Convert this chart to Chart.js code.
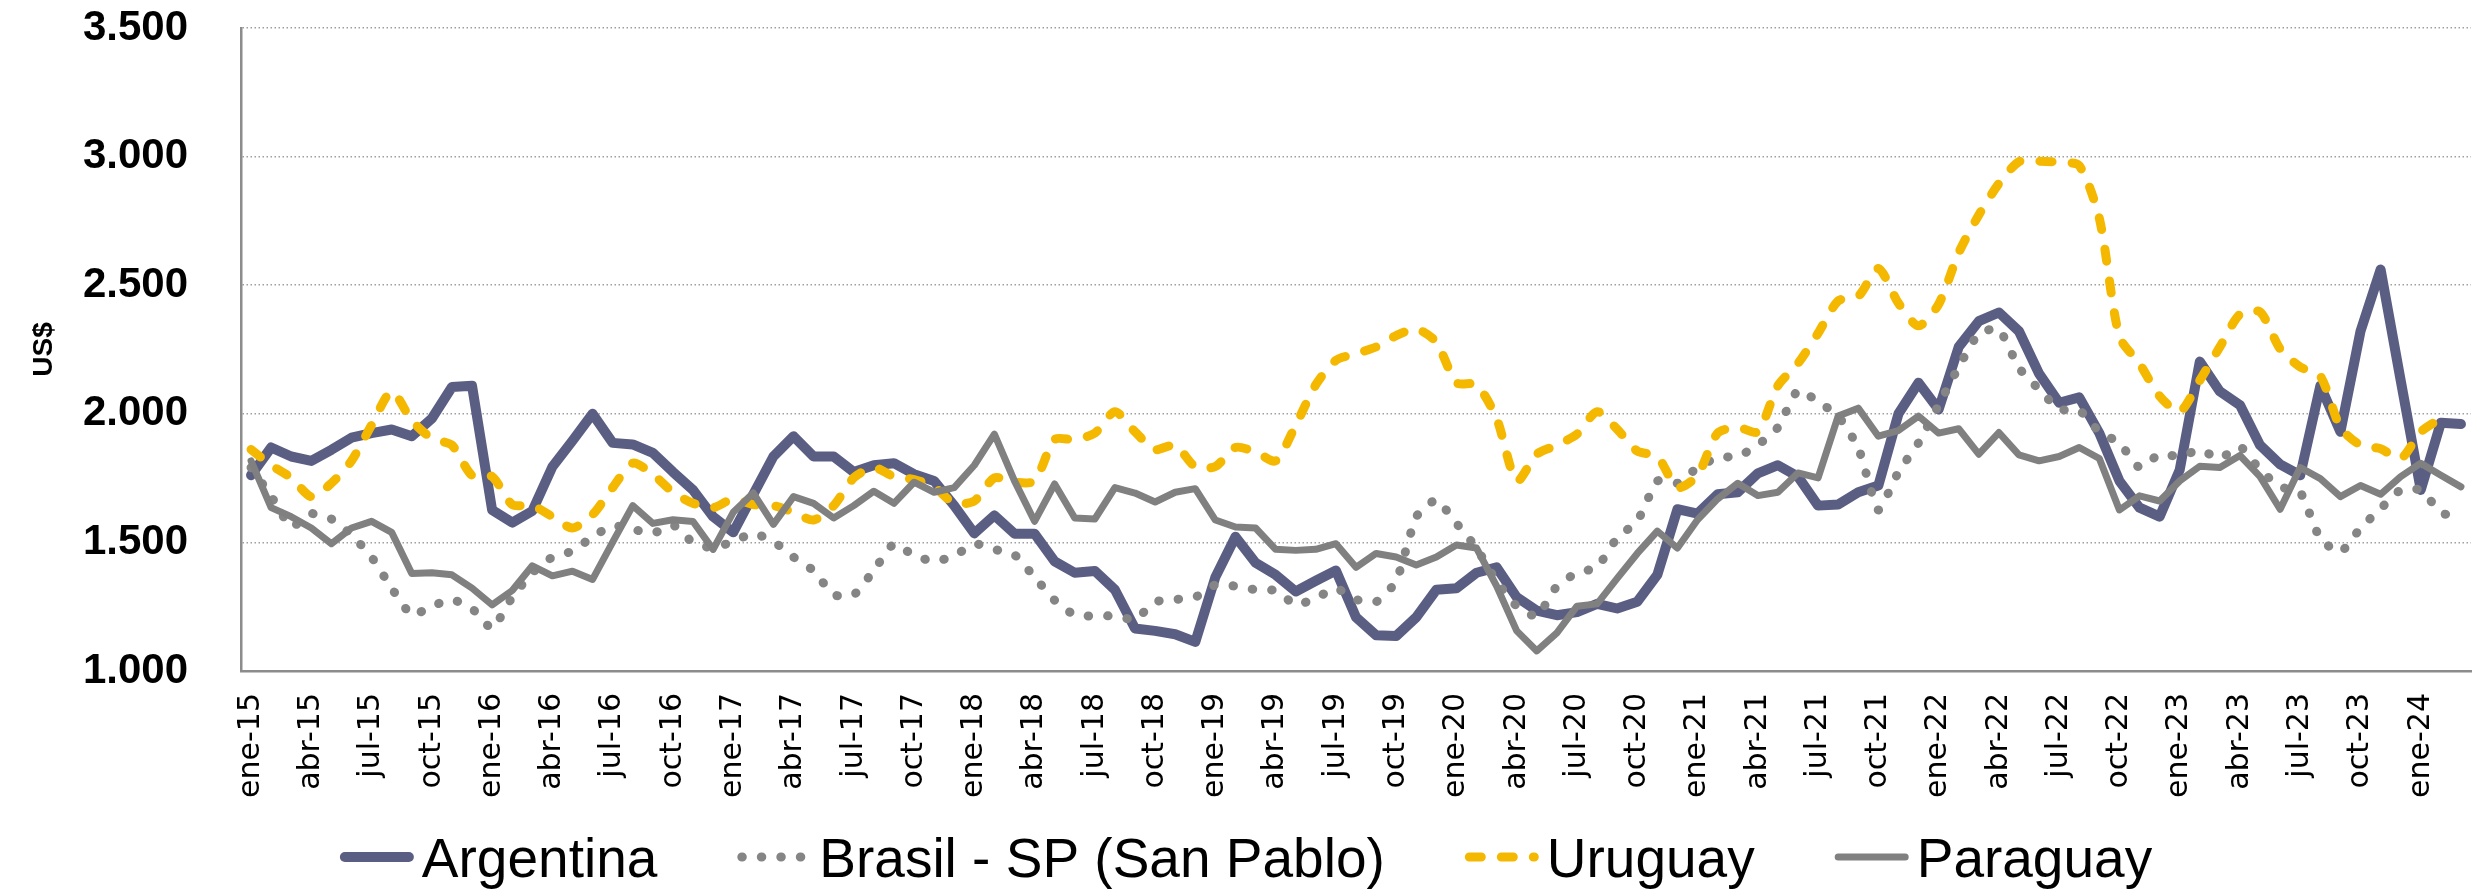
<!DOCTYPE html>
<html>
<head>
<meta charset="utf-8">
<script src="https://cdn.jsdelivr.net/npm/chart.js@4"></script>
<style>
  body { margin: 0; background: #fff; }
  canvas { display: block; }
</style>
</head>
<body>
<canvas id="precioChart" width="2484" height="890"></canvas>
<script>
// monthly series, ene-15 .. mar-24 (US$)
const monthNames = ['ene', 'feb', 'mar', 'abr', 'may', 'jun', 'jul', 'ago', 'sep', 'oct', 'nov', 'dic'];
const years = ['15', '16', '17', '18', '19', '20', '21', '22', '23', '24'];
const lastMonthOf2024 = 3; // data ends in mar-24

const argentina = [
  1761, 1869, 1834, 1817, 1860, 1907, 1925, 1939, 1913, 1982,
  2104, 2109, 1626, 1577, 1622, 1794, 1895, 2000, 1887, 1881,
  1848, 1774, 1704, 1600, 1539, 1687, 1834, 1913, 1834, 1834,
  1774, 1800, 1808, 1765, 1739, 1643, 1535, 1605, 1534, 1534,
  1426, 1382, 1389, 1316, 1165, 1156, 1143, 1113, 1365, 1522,
  1421, 1374, 1309, 1351, 1391, 1209, 1139, 1136, 1209, 1316,
  1322, 1382, 1403, 1287, 1235, 1217, 1229, 1261, 1243, 1269,
  1374, 1629, 1612, 1687, 1695, 1768, 1800, 1756, 1643, 1647,
  1695, 1721, 2000, 2121, 2017, 2260, 2360, 2394, 2321, 2156,
  2043, 2064, 1925, 1739, 1635, 1600, 1782, 2203, 2087, 2034,
  1878, 1803, 1761, 2109, 1930, 2321, 2561, 2130, 1704, 1965,
  1960
];

const brasil = [
  1791, 1680, 1560, 1612, 1591, 1530, 1443, 1322, 1217, 1252,
  1278, 1243, 1165, 1287, 1382, 1443, 1466, 1522, 1565, 1551,
  1535, 1568, 1499, 1478, 1504, 1535, 1504, 1443, 1390, 1296,
  1296, 1391, 1495, 1449, 1426, 1447, 1495, 1473, 1452, 1365,
  1275, 1217, 1214, 1214, 1200, 1269, 1278, 1287, 1335, 1330,
  1316, 1313, 1257, 1283, 1322, 1278, 1269, 1348, 1600, 1666,
  1574, 1478, 1348, 1252, 1212, 1330, 1382, 1403, 1518, 1582,
  1739, 1730, 1791, 1831, 1834, 1878, 1947, 2092, 2048, 1991,
  1869, 1626, 1774, 1887, 2034, 2182, 2313, 2330, 2178, 2095,
  2017, 2014, 1930, 1887, 1791, 1843, 1834, 1860, 1826, 1873,
  1782, 1716, 1695, 1513, 1461, 1556, 1631, 1704, 1704, 1617,
  1591
];

const uruguay = [
  1861, 1800, 1751, 1678, 1730, 1817, 1956, 2087, 1974, 1904,
  1878, 1760, 1756, 1647, 1643, 1600, 1556, 1608, 1713, 1808,
  1765, 1695, 1652, 1635, 1669, 1647, 1643, 1617, 1587, 1643,
  1751, 1791, 1756, 1744, 1716, 1652, 1661, 1751, 1734, 1739,
  1900, 1900, 1925, 2008, 1930, 1861, 1878, 1794, 1795, 1869,
  1852, 1817, 1956, 2113, 2208, 2234, 2260, 2304, 2330, 2278,
  2121, 2113, 1982, 1739, 1843, 1878, 1921, 2008, 1940, 1855,
  1834, 1713, 1761, 1925, 1947, 1930, 2109, 2196, 2313, 2439,
  2457, 2565, 2430, 2342, 2426, 2626, 2773, 2895, 2980, 2982,
  2978, 2965, 2760, 2300, 2195, 2069, 2008, 2130, 2260, 2387,
  2396, 2252, 2182, 2147, 1947, 1878, 1864, 1826, 1930, 1982,
  null
];

const paraguay = [
  1817, 1635, 1600, 1556, 1495, 1556, 1582, 1539, 1379, 1382,
  1374, 1322, 1257, 1313, 1409, 1370, 1388, 1356, 1501, 1643,
  1574, 1588, 1581, 1473, 1617, 1692, 1570, 1678, 1652, 1595,
  1643, 1699, 1652, 1734, 1695, 1713, 1800, 1921, 1739, 1582,
  1727, 1595, 1591, 1713, 1692, 1657, 1695, 1709, 1587, 1560,
  1556, 1473, 1469, 1473, 1495, 1403, 1457, 1443, 1412, 1443,
  1490, 1478, 1330, 1156, 1078, 1148, 1252, 1261, 1360, 1457,
  1544, 1478, 1588, 1669, 1730, 1682, 1695, 1770, 1751, 1991,
  2022, 1913, 1935, 1991, 1925, 1942, 1843, 1927, 1840, 1817,
  1834, 1869, 1826, 1626, 1681, 1661, 1739, 1796, 1791, 1838,
  1756, 1629, 1791, 1748, 1678, 1721, 1687, 1756, 1808, 1761,
  1716
];

const yTicks = { min: 1000, max: 3500, step: 500 };

// build the month labels: ene-15, feb-15, ...
const labels = [];
years.forEach((yy, yi) => {
  const count = yi === years.length - 1 ? lastMonthOf2024 : 12;
  for (let m = 0; m < count; m++) labels.push(monthNames[m] + '-' + yy);
});

// legend drawn under the axis, same look as the lines
const bottomLegend = {
  id: 'bottomLegend',
  afterDraw(chart) {
    const c = chart.ctx;
    const sets = chart.data.datasets;
    const symW = 74, gapIn = 8, gapOut = 80;
    const y = 857;
    c.save();
    c.font = '55px "Liberation Sans", Arial, sans-serif';
    const widths = sets.map(d => symW + gapIn + c.measureText(d.label).width);
    const total = widths.reduce((a, b) => a + b, 0) + gapOut * (sets.length - 1);
    let x = chart.width / 2 + 4 - total / 2;
    sets.forEach((d, i) => {
      const half = d.borderWidth / 2;
      c.beginPath();
      c.lineWidth = d.borderWidth;
      c.strokeStyle = d.borderColor;
      c.lineCap = d.borderCapStyle;
      c.setLineDash(d.borderDash || []);
      c.moveTo(x + half, y);
      c.lineTo(x + symW - half, y);
      c.stroke();
      c.setLineDash([]);
      c.fillStyle = '#000';
      c.textBaseline = 'alphabetic';
      c.fillText(d.label, x + symW + gapIn, y + 20);
      x += widths[i] + gapOut;
    });
    c.restore();
  }
};

const ctx = document.getElementById('precioChart').getContext('2d');
new Chart(ctx, {
  type: 'line',
  data: {
    labels: labels,
    datasets: [
      {
        label: 'Argentina',
        data: argentina,
        borderColor: '#5b5e83',
        borderWidth: 10,
        borderCapStyle: 'round',
        borderJoinStyle: 'round',
        tension: 0,
        order: 4
      },
      {
        label: 'Brasil - SP (San Pablo)',
        data: brasil,
        borderColor: '#858585',
        borderWidth: 9,
        borderDash: [0.5, 19],
        borderCapStyle: 'round',
        borderJoinStyle: 'round',
        tension: 0.15,
        order: 3
      },
      {
        label: 'Uruguay',
        data: uruguay,
        borderColor: '#f5b800',
        borderWidth: 9,
        borderDash: [12, 20],
        borderCapStyle: 'round',
        borderJoinStyle: 'round',
        tension: 0.25,
        order: 2
      },
      {
        label: 'Paraguay',
        data: paraguay,
        borderColor: '#808080',
        borderWidth: 7,
        borderCapStyle: 'round',
        borderJoinStyle: 'round',
        tension: 0,
        order: 1
      }
    ]
  },
  options: {
    responsive: false,
    animation: false,
    devicePixelRatio: 1,
    elements: { point: { radius: 0, hoverRadius: 0 } },
    layout: { padding: { left: 0, right: 13, top: 28, bottom: 79 } },
    plugins: {
      legend: { display: false },
      tooltip: { enabled: false }
    },
    scales: {
      x: {
        offset: true,
        grid: {
          display: true,
          drawOnChartArea: false,
          drawTicks: true,
          tickLength: 22,
          tickColor: 'rgba(0,0,0,0)'
        },
        border: { display: true, color: '#8c8c8c', width: 2.5 },
        ticks: {
          autoSkip: false,
          maxRotation: 90,
          minRotation: 90,
          padding: 0,
          color: '#000',
          font: { family: '"DejaVu Sans", sans-serif', size: 30 },
          // only every third month carries a label
          callback: (value, index) => index % 3 === 0 ? labels[index] : null
        },
        afterFit: scale => { scale.height = 140; }
      },
      y: {
        min: yTicks.min,
        max: yTicks.max,
        grid: {
          color: '#a0a0a0',
          lineWidth: 1.5,
          drawTicks: true,
          tickLength: 53,
          tickColor: 'rgba(0,0,0,0)'
        },
        border: { display: true, color: '#8c8c8c', width: 2.5, dash: [1.5, 2.5] },
        ticks: {
          stepSize: yTicks.step,
          padding: 0,
          color: '#000',
          font: { family: '"Liberation Sans", Arial, sans-serif', size: 42, weight: 'bold' },
          callback: value => (value / 1000).toFixed(3)
        },
        title: {
          display: true,
          text: 'US$',
          color: '#000',
          padding: { top: 27, bottom: 0 },
          font: { family: '"Liberation Sans", Arial, sans-serif', size: 28, weight: 'bold' }
        },
        afterFit: scale => { scale.width = 241; }
      }
    }
  },
  plugins: [bottomLegend]
});
</script>
</body>
</html>
